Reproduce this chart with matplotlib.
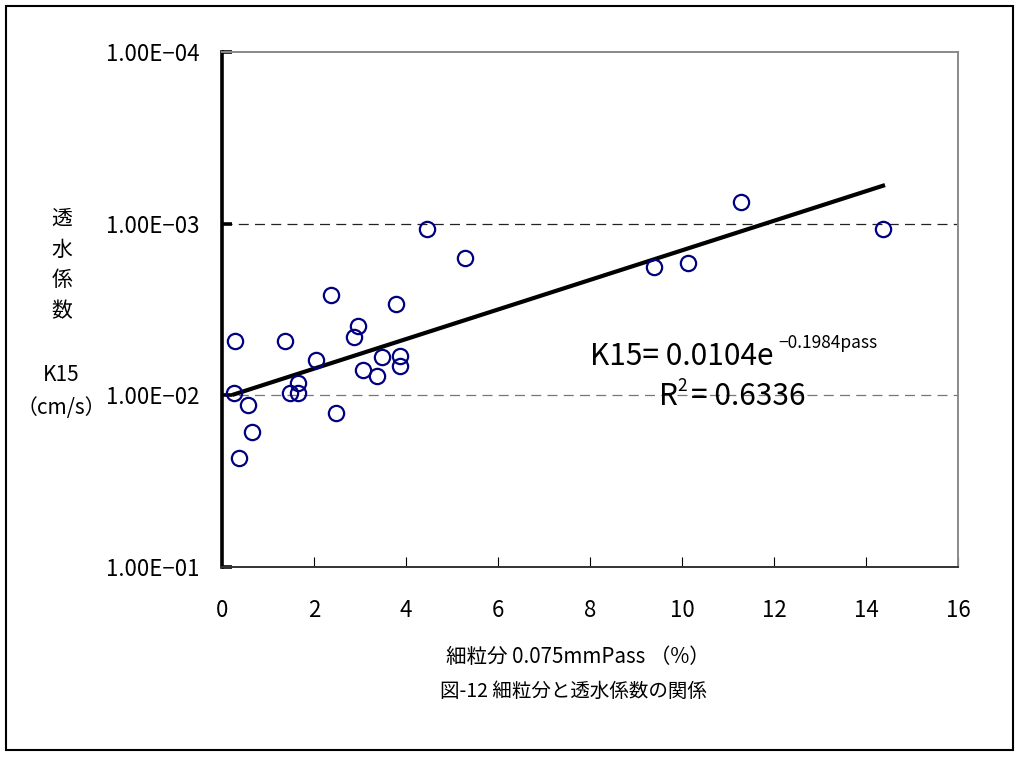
import numpy as np
import matplotlib.pyplot as plt
from matplotlib.patches import Rectangle
from matplotlib.ticker import FixedLocator, FixedFormatter

plt.rcParams['font.family'] = ['Noto Sans CJK JP', 'DejaVu Sans']

# fines content (%) and permeability K15 (cm/s)
fines = [0.28, 0.26, 0.37, 0.57, 0.65, 1.37, 1.48, 1.65, 1.65, 2.04,
         2.37, 2.48, 2.87, 2.96, 3.07, 3.37, 3.48, 3.78, 3.87, 3.87,
         4.46, 5.28, 9.39, 10.13, 11.28, 14.37]
k15 = [4.85e-3, 9.7e-3, 2.32e-2, 1.14e-2, 1.64e-2, 4.85e-3, 9.7e-3, 8.5e-3, 9.7e-3, 6.2e-3,
       2.59e-3, 1.26e-2, 4.6e-3, 3.97e-3, 7.16e-3, 7.76e-3, 6.0e-3, 2.92e-3, 5.93e-3, 6.78e-3,
       1.07e-3, 1.58e-3, 1.78e-3, 1.69e-3, 7.45e-4, 1.07e-3]

# exponential trend line  K15 = a * exp(b * pass)
fit_a = 0.0104
fit_b = -0.1984

yticks = [1e-4, 1e-3, 1e-2, 1e-1]
ytick_labels = ['1.00E−04', '1.00E−03', '1.00E−02', '1.00E−01']
xticks = [0, 2, 4, 6, 8, 10, 12, 14, 16]
gridlines = [1e-3, 1e-2]

W, H = 1020, 758
fig = plt.figure(figsize=(W / 100, H / 100), dpi=100)
ax = fig.add_axes([222 / W, 1 - 567 / H, (958 - 222) / W, (567 - 52) / H])

xs = np.linspace(min(fines), max(fines), 100)
ax.plot(xs, fit_a * np.exp(fit_b * xs), color='black', lw=3, zorder=3)
ax.plot(fines, k15, 'o', ms=11, mfc='none', mec='#000080', mew=1.6, zorder=4)

ax.set_yscale('log')
ax.set_ylim(1e-1, 1e-4)
ax.set_xlim(0, 16)
ax.yaxis.set_major_locator(FixedLocator(yticks))
ax.yaxis.set_major_formatter(FixedFormatter(ytick_labels))
ax.yaxis.set_minor_locator(FixedLocator([]))
ax.set_xticks(xticks)

for v, c in zip(gridlines, ['#222222', '#777777']):
    ax.axhline(v, color=c, lw=0.9, ls=(0, (8, 5)), zorder=1)

ax.spines['left'].set_linewidth(2.6)
ax.spines['left'].set_color('black')
ax.spines['bottom'].set_linewidth(1.4)
ax.spines['bottom'].set_color('#333333')
for s in ['top', 'right']:
    ax.spines[s].set_linewidth(1.4)
    ax.spines[s].set_color('#8a8a8a')

ax.tick_params(axis='y', direction='in', length=7, width=2.6, labelsize=16, pad=16)
ax.tick_params(axis='x', direction='in', length=7, width=0.8, labelsize=16, pad=23)

# equation
fig.text(590 / W, 1 - 365 / H, 'K15= 0.0104e', fontsize=21.5, ha='left', va='baseline')
fig.text(778 / W, 1 - 348 / H, '−0.1984pass', fontsize=12.5, ha='left', va='baseline')
fig.text(659 / W, 1 - 405 / H, 'R', fontsize=21.5, ha='left', va='baseline')
fig.text(677 / W, 1 - 391 / H, '2', fontsize=12.5, ha='left', va='baseline')
fig.text(691 / W, 1 - 405 / H, '= 0.6336', fontsize=21.5, ha='left', va='baseline')

# axis labels
fig.text(62 / W, 1 - 265 / H, '透\n水\n係\n数', fontsize=15, ha='center', va='center',
         linespacing=1.5)
fig.text(61 / W, 1 - 375 / H, 'K15', fontsize=15, ha='center', va='center')
fig.text(61 / W, 1 - 408 / H, '（cm/s）', fontsize=15, ha='center', va='center')
fig.text(578 / W, 1 - 657 / H, '細粒分 0.075mmPass （%）', fontsize=14.8, ha='center', va='center')
fig.text(573 / W, 1 - 691 / H, '図-12 細粒分と透水係数の関係', fontsize=14, ha='center', va='center')

fig.patches.append(Rectangle((6 / W, 1 - 750 / H), (1013 - 6) / W, (750 - 6) / H,
                             transform=fig.transFigure, fill=False, ec='black', lw=1.5))

fig.savefig('out.png', dpi=100)
